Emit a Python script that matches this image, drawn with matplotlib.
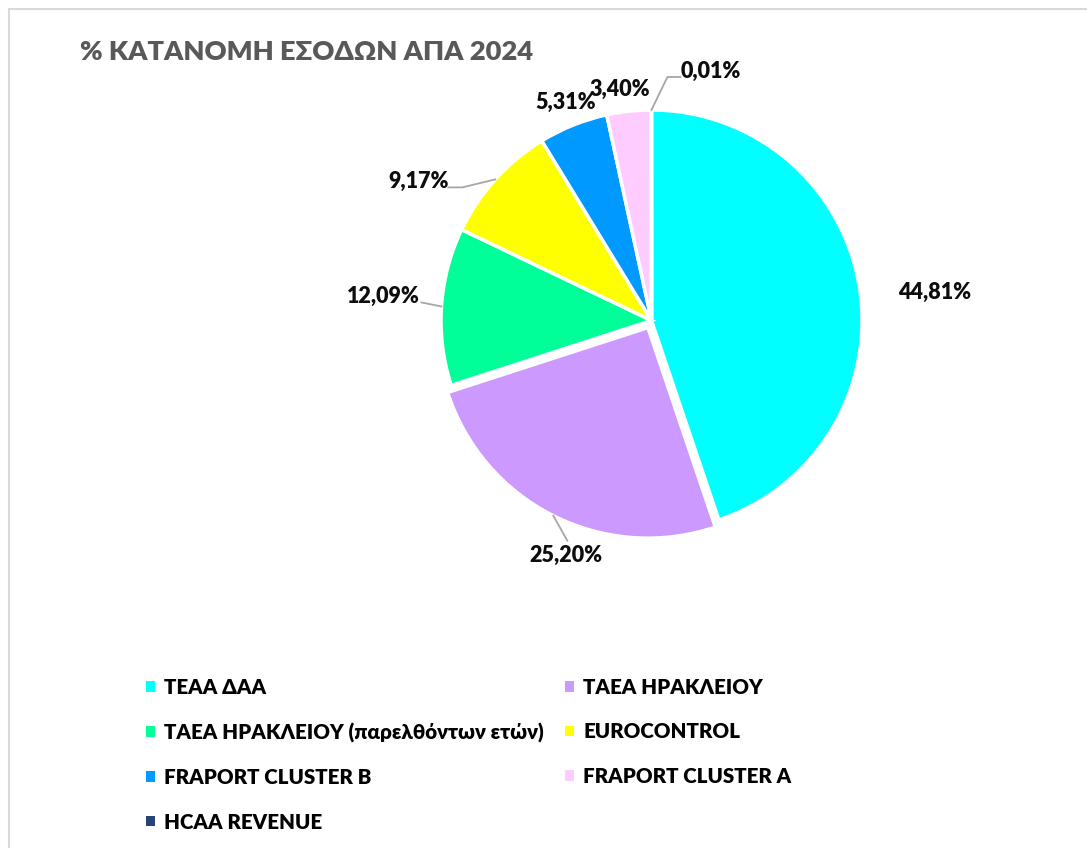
import matplotlib
matplotlib.use('Agg')
import numpy as np
import matplotlib.pyplot as plt
from matplotlib.patches import Patch, Rectangle

categories = ['ΤΕΑΑ ΔΑΑ', 'ΤΑΕΑ ΗΡΑΚΛΕΙΟΥ', 'ΤΑΕΑ ΗΡΑΚΛΕΙΟΥ (παρελθόντων ετών)',
              'EUROCONTROL', 'FRAPORT CLUSTER B', 'FRAPORT CLUSTER A', 'HCAA REVENUE']
shares = [44.81, 25.20, 12.09, 9.17, 5.31, 3.40, 0.01]
labels = ['44,81%', '25,20%', '12,09%', '9,17%', '5,31%', '3,40%', '0,01%']
colors = ['#00FFFF', '#CC99FF', '#00FF99', '#FFFF00', '#0099FF', '#FFCCFF', '#264478']
title = '% ΚΑΤΑΝΟΜΗ ΕΣΟΔΩΝ ΑΠΑ 2024'

plt.rcParams['font.family'] = ['Lato', 'DejaVu Sans']

W, H = 1087, 848
CX, CY, R = 651.5, H - 320.5, 210.5
# pie explode is in data units here (pixels), not radius fractions
explode = [0, 8, 0, 0, 0, 0, 0]

# label placement: offset (px, y down) from the rim point at the wedge middle
label_offsets = [(75, 6), (13, 40), (-58, -10), (-77, 2), (-8, -23), (-9, -22), (59, -39)]
# leader line bends, relative to label centre (px, y down); None = no leader
leaders = [None, [(1, -15)], [(38, 6)], [(44, 6), (30, 6)], None, None, [(-43, 6), (-30, 6)]]


def main():
    fig = plt.figure(figsize=(W / 100, H / 100), dpi=100)
    ax = fig.add_axes([0, 0, 1, 1])

    wedges, _ = ax.pie(shares, colors=colors, startangle=90, counterclock=False,
                       explode=explode, center=(CX, CY), radius=R,
                       wedgeprops=dict(edgecolor='white', linewidth=2.5))
    ax.set_xlim(0, W)
    ax.set_ylim(0, H)
    ax.set_aspect('auto')
    ax.axis('off')

    for w, lab, off, lead in zip(wedges, labels, label_offsets, leaders):
        mid = np.deg2rad((w.theta1 + w.theta2) / 2)
        rx = w.center[0] + R * np.cos(mid)
        ry = w.center[1] + R * np.sin(mid)
        tx, ty = rx + off[0], ry - off[1]
        ax.text(tx, ty, lab, ha='center', va='center', fontsize=15.5,
                fontweight='heavy', color='#0d0d0d')
        if lead:
            xs = [rx] + [tx + p[0] for p in lead]
            ys = [ry] + [ty - p[1] for p in lead]
            ax.plot(xs, ys, color='#a6a6a6', lw=1.3)

    order = [0, 2, 4, 6, 1, 3, 5]
    handles = [Patch(facecolor=colors[i], edgecolor='none') for i in order]
    ax.legend(handles, [categories[i] for i in order], ncol=2, loc='upper left',
              bbox_to_anchor=(146 / W, 1 - 678 / H), frameon=False,
              prop=dict(size=14.8, weight='heavy'), handlelength=0.42, handleheight=0.42,
              handletextpad=0.45, columnspacing=1.05, labelspacing=1.24,
              borderpad=0, borderaxespad=0)

    fig.text(80 / W, 1 - 52 / H, title, ha='left', va='center', fontsize=19.6,
             fontweight='heavy', color='#595959')

    fig.add_artist(Rectangle((9 / W, -0.1), 1.2, 1 - 9 / H + 0.1, transform=fig.transFigure,
                             fill=False, edgecolor='#d9d9d9', lw=1.5))

    fig.savefig('out.png', dpi=100, facecolor='white')


main()
